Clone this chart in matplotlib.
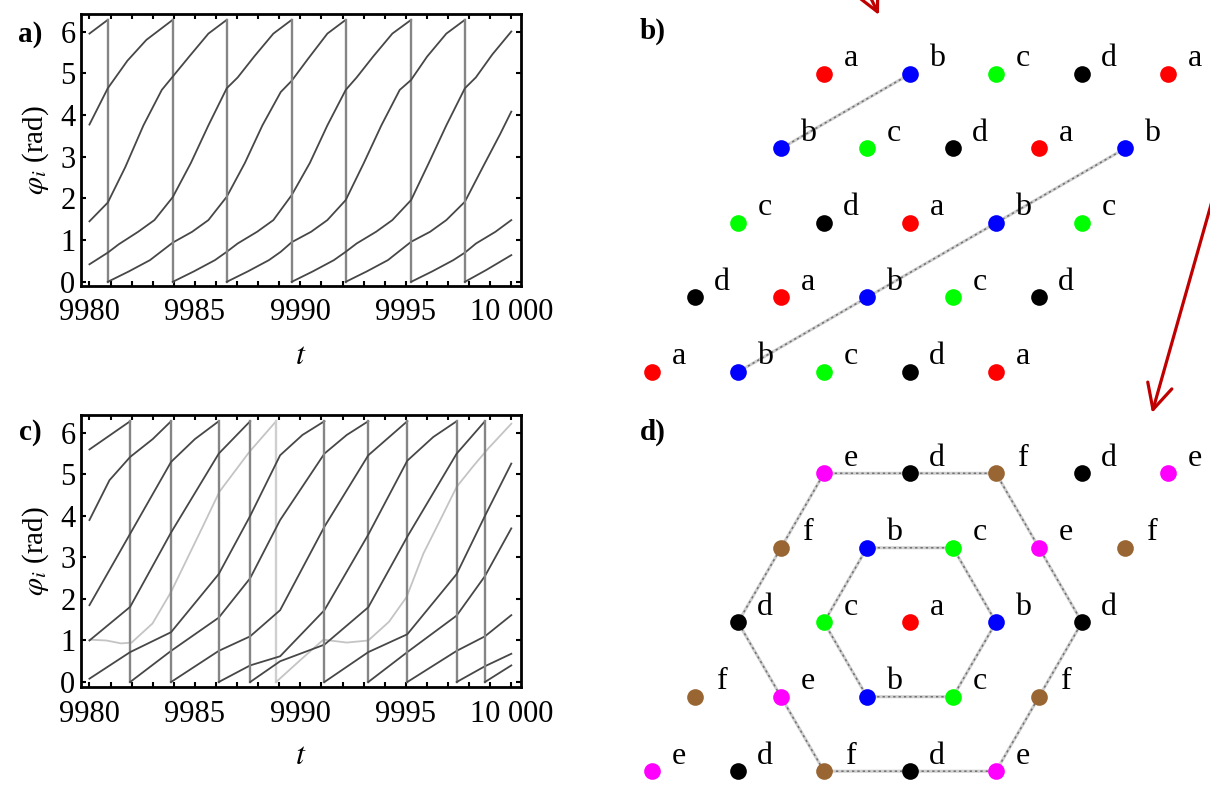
import matplotlib
matplotlib.use("Agg")
import matplotlib.pyplot as plt
import numpy as np
from matplotlib.ticker import MultipleLocator

plt.rcParams["font.family"] = ["Liberation Serif", "DejaVu Serif"]
plt.rcParams["mathtext.fontset"] = "stix"

W, H = 1210, 793

# ---- panel a: phases of four oscillators (equal consecutive t = wrap 2pi -> 0)
a_times = [
    [9980, 9980.87, 9980.87, 9981.87, 9982.87, 9983.95, 9984.87, 9985.64, 9986.51,
     9987.37, 9988.2, 9989.07, 9989.59, 9990.37, 9991.28, 9992.15, 9992.15, 9993.15,
     9994.15, 9995.25, 9996.15, 9996.92, 9997.8, 9998.65, 9999.48, 10000],
    [9980, 9980.87, 9981.8, 9982.7, 9983.95, 9983.95, 9984.95, 9985.95, 9986.51,
     9987.03, 9987.95, 9988.72, 9989.59, 9990.45, 9991.28, 9992.15, 9992.67, 9993.45,
     9994.36, 9995.25, 9995.25, 9996.25, 9997.25, 9997.8, 9998.33, 9999.25, 10000],
    [9980, 9980.87, 9981.7, 9982.56, 9983.43, 9983.95, 9984.73, 9985.64, 9986.51,
     9986.51, 9987.51, 9988.51, 9989.07, 9989.59, 9990.51, 9991.28, 9992.15, 9993.01,
     9993.84, 9994.71, 9995.25, 9996.01, 9996.92, 9997.8, 9997.8, 9998.8, 10000],
    [9980, 9980.87, 9981.39, 9982.31, 9983.08, 9983.95, 9984.81, 9985.64, 9986.51,
     9987.03, 9987.81, 9988.72, 9989.59, 9989.59, 9990.59, 9991.59, 9992.15, 9992.67,
     9993.59, 9994.36, 9995.25, 9996.09, 9996.92, 9997.8, 9998.32, 9999.1, 10000],
]
a_phases = [
    [5.95, 6.28, 0, 0.25, 0.52, 0.94, 1.2, 1.48, 2.04, 2.85, 3.75, 4.55, 4.82, 5.35,
     5.95, 6.28, 0, 0.25, 0.52, 0.96, 1.2, 1.48, 1.92, 2.75, 3.55, 4.08],
    [3.77, 4.64, 5.3, 5.8, 6.28, 0, 0.25, 0.52, 0.72, 0.92, 1.2, 1.48, 2.08, 2.85,
     3.75, 4.6, 4.9, 5.4, 5.95, 6.28, 0, 0.25, 0.52, 0.7, 0.92, 1.2, 1.48],
    [1.45, 1.9, 2.75, 3.75, 4.6, 4.92, 5.4, 5.95, 6.28, 0, 0.25, 0.52, 0.72, 0.95,
     1.2, 1.48, 1.96, 2.85, 3.75, 4.6, 4.84, 5.4, 5.95, 6.28, 0, 0.28, 0.64],
    [0.42, 0.7, 0.9, 1.2, 1.48, 2.03, 2.85, 3.75, 4.64, 4.9, 5.4, 5.95, 6.28, 0,
     0.25, 0.52, 0.72, 0.92, 1.2, 1.48, 1.96, 2.85, 3.75, 4.64, 4.9, 5.45, 6.0],
]

# ---- panel c: five dark oscillators and one light one
c_times = [
    [9980, 9981.93, 9981.93, 9983.87, 9986.13, 9987.62, 9989.04, 9991.14, 9992.2,
     9993.22, 9993.22, 9995.07, 9997.41, 9998.75, 10000],
    [9980, 9980.95, 9981.93, 9983.0, 9983.87, 9983.87, 9986.13, 9987.62, 9989.04,
     9991.14, 9993.22, 9995.07, 9995.07, 9997.41, 9998.75, 10000],
    [9980, 9981.93, 9983.87, 9985.0, 9986.13, 9986.13, 9987.62, 9989.04, 9991.14,
     9993.22, 9995.07, 9996.3, 9997.41, 9997.41, 9998.75, 10000],
    [9980, 9981.93, 9983.87, 9986.13, 9987.62, 9987.62, 9989.04, 9991.14, 9993.22,
     9995.07, 9997.41, 9998.75, 9998.75, 10000],
    [9980, 9981.93, 9983.87, 9986.13, 9987.62, 9989.04, 9990.1, 9991.14, 9991.14,
     9993.22, 9995.07, 9997.41, 9998.75, 10000],
]
c_phases = [
    [5.6, 6.28, 0, 0.75, 1.55, 2.5, 3.9, 5.5, 5.95, 6.28, 0, 0.72, 1.6, 2.55, 3.7],
    [3.9, 4.86, 5.42, 5.85, 6.28, 0, 0.75, 1.1, 1.73, 3.74, 5.46, 6.28, 0, 0.75,
     1.1, 1.61],
    [1.85, 3.57, 5.3, 5.85, 6.28, 0, 0.4, 0.62, 1.73, 3.55, 5.33, 5.9, 6.28, 0,
     0.38, 0.68],
    [1.0, 1.81, 3.6, 5.5, 6.28, 0, 0.5, 0.9, 1.8, 3.5, 5.5, 6.28, 0, 0.4],
    [0.08, 0.72, 1.2, 2.6, 4.0, 5.46, 5.95, 6.28, 0, 0.72, 1.15, 2.6, 4.0, 5.26],
]
c_light_t = [9980, 9980.8, 9981.5, 9982.0, 9982.99, 9983.87, 9985.37, 9986.16,
             9987.58, 9988.85, 9988.85, 9989.98, 9991.09, 9992.2, 9993.22, 9994.2,
             9995.04, 9995.83, 9996.62, 9997.41, 9998.2, 9998.9, 10000]
c_light_phi = [1.02, 1.0, 0.93, 0.95, 1.41, 2.17, 3.74, 4.58, 5.54, 6.28, 0, 0.52,
               1.02, 0.95, 1.0, 1.45, 2.05, 3.09, 3.89, 4.7, 5.2, 5.62, 6.22]

x_ticks = [9980, 9985, 9990, 9995, 10000]
x_ticklabels = ["9980", "9985", "9990", "9995", "10 000"]
y_ticks = [0, 1, 2, 3, 4, 5, 6]

# ---- panels b, d: lattice sites (column position, row) and oscillator letter
site_col = [2, 3, 4, 5, 6, 1.5, 2.5, 3.5, 4.5, 5.5, 1, 2, 3, 4, 5,
            0.5, 1.5, 2.5, 3.5, 4.5, 0, 1, 2, 3, 4]
site_row = [0] * 5 + [1] * 5 + [2] * 5 + [3] * 5 + [4] * 5
b_letters = list("abcda" "bcdab" "cdabc" "dabcd" "abcda")
d_letters = list("edfde" "fbcef" "dcabd" "febcf" "edfde")
letter_colors = {"a": "#ff0000", "b": "#0000ff", "c": "#00ff00", "d": "#000000",
                 "e": "#ff00ff", "f": "#996633"}
# paths drawn between sites (indices into the site lists)
b_paths = [[1, 5], [9, 13, 17, 21]]
d_paths = [[6, 7, 13, 18, 17, 11, 6],
           [0, 1, 2, 8, 14, 19, 24, 23, 22, 16, 10, 5, 0]]


def px_rect(left, top, right, bottom):
    return [left / W, 1 - bottom / H, (right - left) / W, (bottom - top) / H]


def draw_phase(ax, t, phi, color, jump_color, lw, jump_lw):
    t = np.asarray(t, dtype=float)
    phi = np.asarray(phi, dtype=float)
    jumps = np.where(np.diff(t) == 0)[0]
    start = 0
    for j in jumps:
        ax.plot(t[start:j + 1], phi[start:j + 1], color=color, lw=lw,
                solid_joinstyle="round")
        ax.plot(t[j:j + 2], phi[j:j + 2], color=jump_color, lw=jump_lw)
        start = j + 1
    ax.plot(t[start:], phi[start:], color=color, lw=lw, solid_joinstyle="round")


def style_phase_axes(ax, ylim):
    ax.set_xlim(9979.6, 10000.46)
    ax.set_ylim(*ylim)
    ax.set_xticks(x_ticks)
    ax.set_xticklabels(x_ticklabels)
    ax.set_yticks(y_ticks)
    ax.xaxis.set_minor_locator(MultipleLocator(1))
    ax.tick_params(which="both", direction="in", top=True, right=True,
                   length=3.5, width=1.5, labelsize=22)
    ax.tick_params(axis="x", pad=9)
    ax.tick_params(axis="y", pad=4)
    for sp in ax.spines.values():
        sp.set_linewidth(2.0)


def draw_lattice(ax, letters, paths, row0_px, top_px, bottom_px):
    unit = 86.0
    xs = np.array(site_col, dtype=float)
    ys = -np.array(site_row, dtype=float) * np.sqrt(3) / 2
    for path in paths:
        ax.plot(xs[path], ys[path], color="#cfcfcf", lw=2.2, zorder=1)
        ax.plot(xs[path], ys[path], color="#707070", lw=1.1,
                ls=(0, (1.5, 2.0)), zorder=1.5)
    for x, y, l in zip(xs, ys, letters):
        ax.plot(x, y, "o", ms=12, color=letter_colors[l], mec="none", zorder=2)
        ax.annotate(l, (x, y), xytext=(19.5, 5.5), textcoords="offset points",
                    ha="center", va="baseline", fontsize=23, zorder=3)
    ax.set_xlim(-(652 - 620) / unit, (1210 - 652) / unit)
    ax.set_ylim(-(bottom_px - row0_px) / unit, (row0_px - top_px) / unit)
    ax.axis("off")


fig = plt.figure(figsize=(W / 100, H / 100), dpi=100)

ax_a = fig.add_axes(px_rect(81, 14, 521, 286))
for t, phi in zip(a_times, a_phases):
    draw_phase(ax_a, t, phi, "#474747", "#858585", 1.3, 1.7)
style_phase_axes(ax_a, (-0.1, 6.42))

ax_c = fig.add_axes(px_rect(81, 415, 521, 687))
draw_phase(ax_c, c_light_t, c_light_phi, "#c4c4c4", "#cfcfcf", 1.3, 1.7)
for t, phi in zip(c_times, c_phases):
    draw_phase(ax_c, t, phi, "#474747", "#858585", 1.3, 1.7)
style_phase_axes(ax_c, (-0.12, 6.43))

ax_b = fig.add_axes(px_rect(620, 0, 1210, 400))
draw_lattice(ax_b, b_letters, b_paths, 74, 0, 400)

ax_d = fig.add_axes(px_rect(620, 400, 1210, 793))
draw_lattice(ax_d, d_letters, d_paths, 473.3, 400, 793)

# overlay in pixel coordinates for labels and arrows
ov = fig.add_axes([0, 0, 1, 1])
ov.set_xlim(0, W)
ov.set_ylim(H, 0)
ov.axis("off")
ov.patch.set_visible(False)

for lab, (x, y) in {"a)": (30, 34), "b)": (653, 31), "c)": (30, 433),
                    "d)": (653, 432)}.items():
    ov.text(x, y, lab, fontsize=21, fontweight="bold", ha="center", va="center")

for yc, ylab in ((150, 357), (551, 757)):
    ov.text(36, yc, r"$\varphi_i$ (rad)", fontsize=21, rotation=90,
            ha="center", va="center")
    ov.text(301, ylab, r"$t$", fontsize=23, ha="center", va="center")

arrow_kw = dict(arrowstyle="->,head_length=0.9,head_width=0.45", color="#c00000",
                lw=2.3, shrinkA=0, shrinkB=0, mutation_scale=20)
ov.annotate("", xy=(879, 15), xytext=(850, -45), arrowprops=arrow_kw,
            annotation_clip=False)
ov.annotate("", xy=(1152, 413), xytext=(1218, 180), arrowprops=arrow_kw,
            annotation_clip=False)

fig.savefig("out.png", dpi=100)
